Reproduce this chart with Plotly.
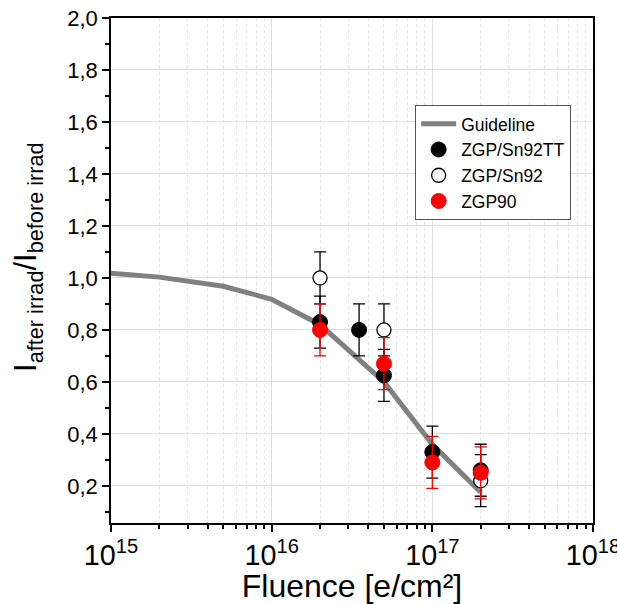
import plotly.graph_objects as go

guide_x = [1e15, 2e15, 5e15, 1e16, 2e16, 5e16, 1e17, 2e17]
guide_y = [1.018, 1.003, 0.968, 0.918, 0.82, 0.60, 0.36, 0.175]

tt_x = [2e16, 3.5e16, 5e16, 1e17, 2e17]
tt_y = [0.83, 0.80, 0.625, 0.33, 0.26]
tt_err = [0.1, 0.1, 0.1, 0.1, 0.1]

sn_x = [2e16, 5e16, 2e17]
sn_y = [1.0, 0.80, 0.22]
sn_err = [0.1, 0.1, 0.1]

z_x = [2e16, 5e16, 1e17, 2e17]
z_y = [0.80, 0.67, 0.29, 0.25]
z_err = [0.1, 0.1, 0.1, 0.1]

fig = go.Figure()
fig.add_trace(go.Scatter(x=guide_x, y=guide_y, mode="lines", name="Guideline",
                         line=dict(color="#808080", width=5)))
fig.add_trace(go.Scatter(x=tt_x, y=tt_y, mode="markers", name="ZGP/Sn92TT",
                         marker=dict(color="black", size=15, line=dict(color="black", width=1)),
                         error_y=dict(type="data", array=tt_err, color="black", thickness=1.3, width=6)))
fig.add_trace(go.Scatter(x=sn_x, y=sn_y, mode="markers", name="ZGP/Sn92",
                         marker=dict(color="white", size=14, line=dict(color="black", width=1.3)),
                         error_y=dict(type="data", array=sn_err, color="black", thickness=1.3, width=6)))
fig.add_trace(go.Scatter(x=z_x, y=z_y, mode="markers", name="ZGP90",
                         marker=dict(color="red", size=15, line=dict(color="red", width=1)),
                         error_y=dict(type="data", array=z_err, color="red", thickness=1.3, width=6)))

fig.update_layout(
    width=617, height=604,
    margin=dict(l=111, r=24, t=18, b=81, autoexpand=False),
    paper_bgcolor="white", plot_bgcolor="white",
    font=dict(family="Liberation Sans, Arial", color="black"),
    separators=",.",
    showlegend=True,
    legend=dict(x=0.631, y=0.828, xanchor="left", yanchor="top",
                bordercolor="#555555", borderwidth=1, bgcolor="white",
                font=dict(size=17.5), tracegroupgap=0, itemwidth=35),
    xaxis=dict(type="log", range=[15, 18], dtick=1, exponentformat="power",
               showexponent="all", automargin=False, ticklabeloverflow="allow",
               showline=True, linecolor="black", linewidth=1.5, mirror=True,
               ticks="outside", ticklen=7, tickwidth=1.5, tickcolor="black",
               tickfont=dict(size=23),
               showgrid=True, gridcolor="#e0e0e0", gridwidth=1,
               minor=dict(ticks="outside", ticklen=4, tickcolor="black", dtick="D1",
                          showgrid=True, gridcolor="#e4e4e4", griddash="dot"),
               title=dict(text="Fluence [e/cm²]", font=dict(size=32), standoff=8),
               zeroline=False),
    yaxis=dict(range=[0.057, 2.0], tickvals=[0.2, 0.4, 0.6, 0.8, 1.0, 1.2, 1.4, 1.6, 1.8, 2.0],
               tickformat=".1f", automargin=False, ticklabeloverflow="allow",
               showline=True, linecolor="black", linewidth=1.5, mirror=True,
               ticks="outside", ticklen=7, tickwidth=1.5, tickcolor="black",
               tickfont=dict(size=22),
               showgrid=True, gridcolor="#e0e0e0", gridwidth=1,
               minor=dict(ticks="outside", ticklen=4, tickcolor="black", dtick=0.1, tick0=0,
                          showgrid=False),
               zeroline=False),
    annotations=[dict(text="I<sub>after irrad</sub>/I<sub>before irrad</sub>",
                      textangle=-90, xref="paper", yref="paper",
                      x=-0.172, y=0.527, xanchor="center", yanchor="middle",
                      showarrow=False, font=dict(size=31))],
)

fig.write_html("out.html", config={"displayModeBar": False},
               post_script="document.body.style.margin='0px';")
